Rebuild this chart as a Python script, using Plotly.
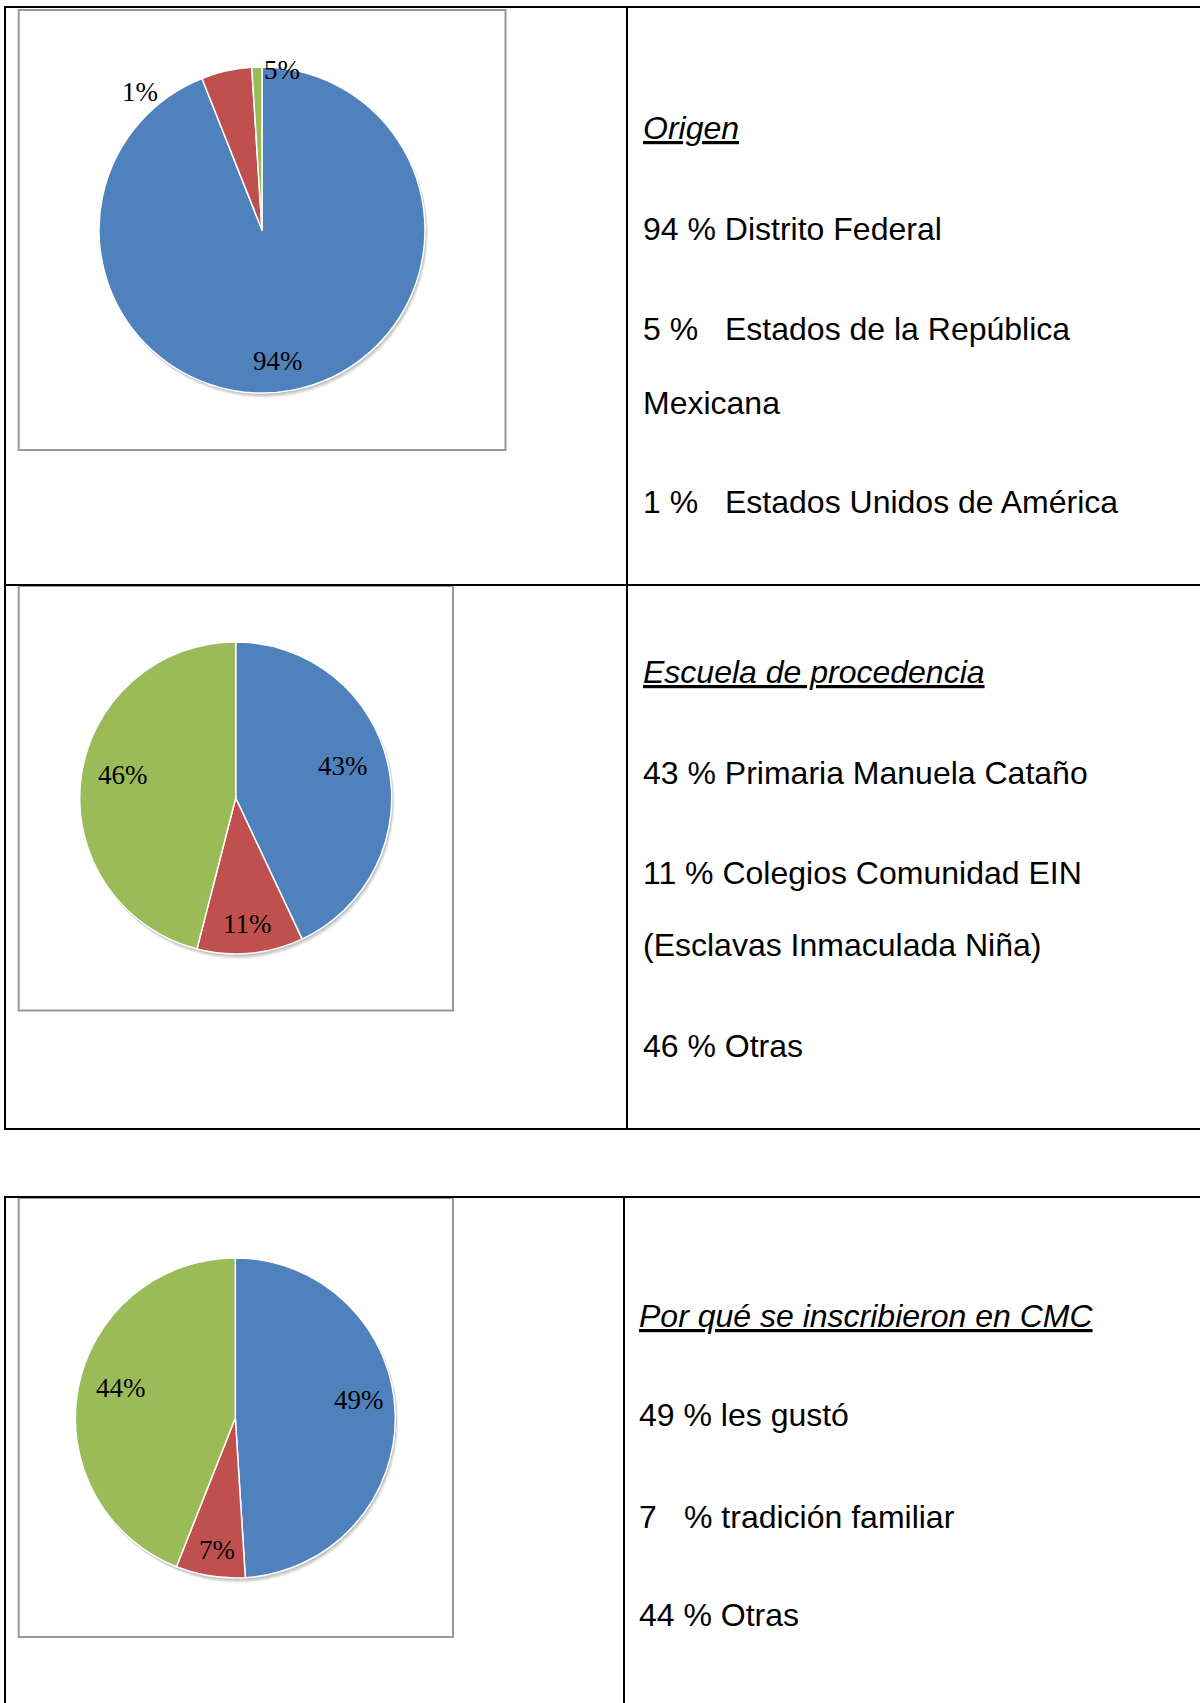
import numpy as np
import plotly.graph_objects as go

W, H = 1200, 1703
OX, OY = 0, 0

# ---------------- data ----------------
origen_labels = ["Distrito Federal", "Estados de la República Mexicana", "Estados Unidos de América"]
origen_values = [94, 5, 1]
origen_texts = ["94%", "1%", "5%"]

escuela_labels = ["Primaria Manuela Cataño", "Colegios Comunidad EIN", "Otras"]
escuela_values = [43, 11, 46]
escuela_texts = ["43%", "11%", "46%"]

inscripcion_labels = ["les gustó", "tradición familiar", "Otras"]
inscripcion_values = [49, 7, 44]
inscripcion_texts = ["49%", "7%", "44%"]

slice_colors = ["#4F81BD", "#C0504D", "#9BBB59"]

# ---------------- layout helpers ----------------
def px(x):
    return (x - OX) / W


def py(y):
    return 1 - (y - OY) / H


charts = [
    dict(labels=origen_labels, values=origen_values, texts=origen_texts,
         cx=262, cy=230, r=163, box=(18.7, 10, 505.5, 450),
         label_r=[0.81, 1.13, 0.99], label_shift=[4, -29, 9]),
    dict(labels=escuela_labels, values=escuela_values, texts=escuela_texts,
         cx=235.7, cy=798, r=156, box=(18.7, 586, 453, 1010.5),
         label_r=[0.72, 0.81, 0.74], label_shift=[-4, 0, 4.5]),
    dict(labels=inscripcion_labels, values=inscripcion_values, texts=inscripcion_texts,
         cx=235.3, cy=1418, r=160, box=(18.7, 1198, 453, 1637),
         label_r=[0.78, 0.83, 0.74], label_shift=[-6.5, -1, 4]),
]

fig = go.Figure()
annotations = []
shapes = []

LABEL_FONT = dict(family="Liberation Serif, Times New Roman, serif", size=27, color="#000000")
TEXT_FONT = dict(family="Liberation Sans, Arial, sans-serif", size=32, color="#000000")

for c in charts:
    cx, cy, r = c["cx"], c["cy"], c["r"]
    # soft drop shadow under each pie (as in the original office chart)
    for k, a in [(5, 0.05), (4, 0.06), (3, 0.07), (2, 0.08)]:
        shapes.append(dict(type="circle", xref="paper", yref="paper",
                           x0=px(cx - r + k * 0.4), x1=px(cx + r + k * 0.6),
                           y0=py(cy + r + k), y1=py(cy - r + k * 0.5),
                           line=dict(width=0), fillcolor=f"rgba(0,0,0,{a})", layer="below"))
    fig.add_trace(go.Pie(
        labels=c["labels"], values=c["values"],
        sort=False, direction="clockwise", rotation=0,
        marker=dict(colors=slice_colors, line=dict(color="white", width=1.5)),
        textinfo="none", hoverinfo="label+percent", showlegend=False,
        domain=dict(x=[px(cx - r), px(cx + r)], y=[py(cy + r), py(cy - r)]),
    ))
    vals = np.array(c["values"], dtype=float)
    frac = vals / vals.sum()
    mids = (np.cumsum(frac) - frac / 2) * 360.0
    for txt, m, rf, sh in zip(c["texts"], mids, c["label_r"], c["label_shift"]):
        th = np.deg2rad(m + sh)
        lx = cx + rf * r * np.sin(th)
        ly = cy - rf * r * np.cos(th)
        annotations.append(dict(
            text=txt, x=px(lx), y=py(ly), xref="paper", yref="paper",
            xanchor="center", yanchor="middle", showarrow=False,
            font=LABEL_FONT, borderpad=0, borderwidth=0,
        ))
    bx0, by0, bx1, by1 = c["box"]
    shapes.append(dict(type="rect", xref="paper", yref="paper",
                       x0=px(bx0), x1=px(bx1), y0=py(by1), y1=py(by0),
                       line=dict(color="#999999", width=2), fillcolor="rgba(0,0,0,0)",
                       layer="below"))

# table borders
TL = dict(color="#000000", width=2)
table_lines = [
    (4, 7, 1220, 7),          # table 1 top
    (5, 585, 1220, 585),      # table 1 row divider
    (4, 1129, 1220, 1129),    # table 1 bottom
    (5, 6, 5, 1130),          # table 1 left
    (627, 7, 627, 1129),      # table 1 column divider
    (4, 1197, 1220, 1197),    # table 2 top
    (5, 1196, 5, 1720),       # table 2 left
    (624, 1197, 624, 1720),   # table 2 column divider
]
for x0, y0, x1, y1 in table_lines:
    shapes.append(dict(type="line", xref="paper", yref="paper",
                       x0=px(x0), x1=px(x1), y0=py(y0), y1=py(y1), line=TL))

# right-hand text blocks: (text, tabbed text, baseline y)
text_blocks = [
    dict(x=643, tab_x=725, lines=[
        ("<u><i>Origen</i></u>", None, 139.5),
        ("94 % Distrito Federal", None, 240),
        ("5 %", "Estados de la República", 340),
        ("Mexicana", None, 414),
        ("1 %", "Estados Unidos de América", 513),
    ]),
    dict(x=643, tab_x=725, lines=[
        ("<u><i>Escuela de procedencia</i></u>", None, 683.5),
        ("43 % Primaria Manuela Cataño", None, 784.5),
        ("11 % Colegios Comunidad EIN", None, 884),
        ("(Esclavas Inmaculada Niña)", None, 956),
        ("46 % Otras", None, 1057.5),
    ]),
    dict(x=639, tab_x=684, lines=[
        ("<u><i>Por qué se inscribieron en CMC</i></u>", None, 1327),
        ("49 % les gustó", None, 1426.5),
        ("7", "% tradición familiar", 1528.3),
        ("44 % Otras", None, 1626.5),
    ]),
]
fs = TEXT_FONT["size"]
for blk in text_blocks:
    for t1, t2, base in blk["lines"]:
        yc = base - 0.35 * fs
        annotations.append(dict(text=t1, x=px(blk["x"]), y=py(yc), xref="paper", yref="paper",
                                xanchor="left", yanchor="middle", showarrow=False,
                                font=TEXT_FONT, borderpad=0, borderwidth=0))
        if t2:
            annotations.append(dict(text=t2, x=px(blk["tab_x"]), y=py(yc), xref="paper", yref="paper",
                                    xanchor="left", yanchor="middle", showarrow=False,
                                    font=TEXT_FONT, borderpad=0, borderwidth=0))

fig.update_layout(
    width=W, height=H,
    margin=dict(l=0, r=0, t=0, b=0),
    paper_bgcolor="white", plot_bgcolor="white",
    annotations=annotations, shapes=shapes,
    showlegend=False,
)

fig.write_html(
    "out.html",
    config={"displayModeBar": False},
    post_script="document.body.style.margin='0px';document.body.style.padding='0px';",
)
